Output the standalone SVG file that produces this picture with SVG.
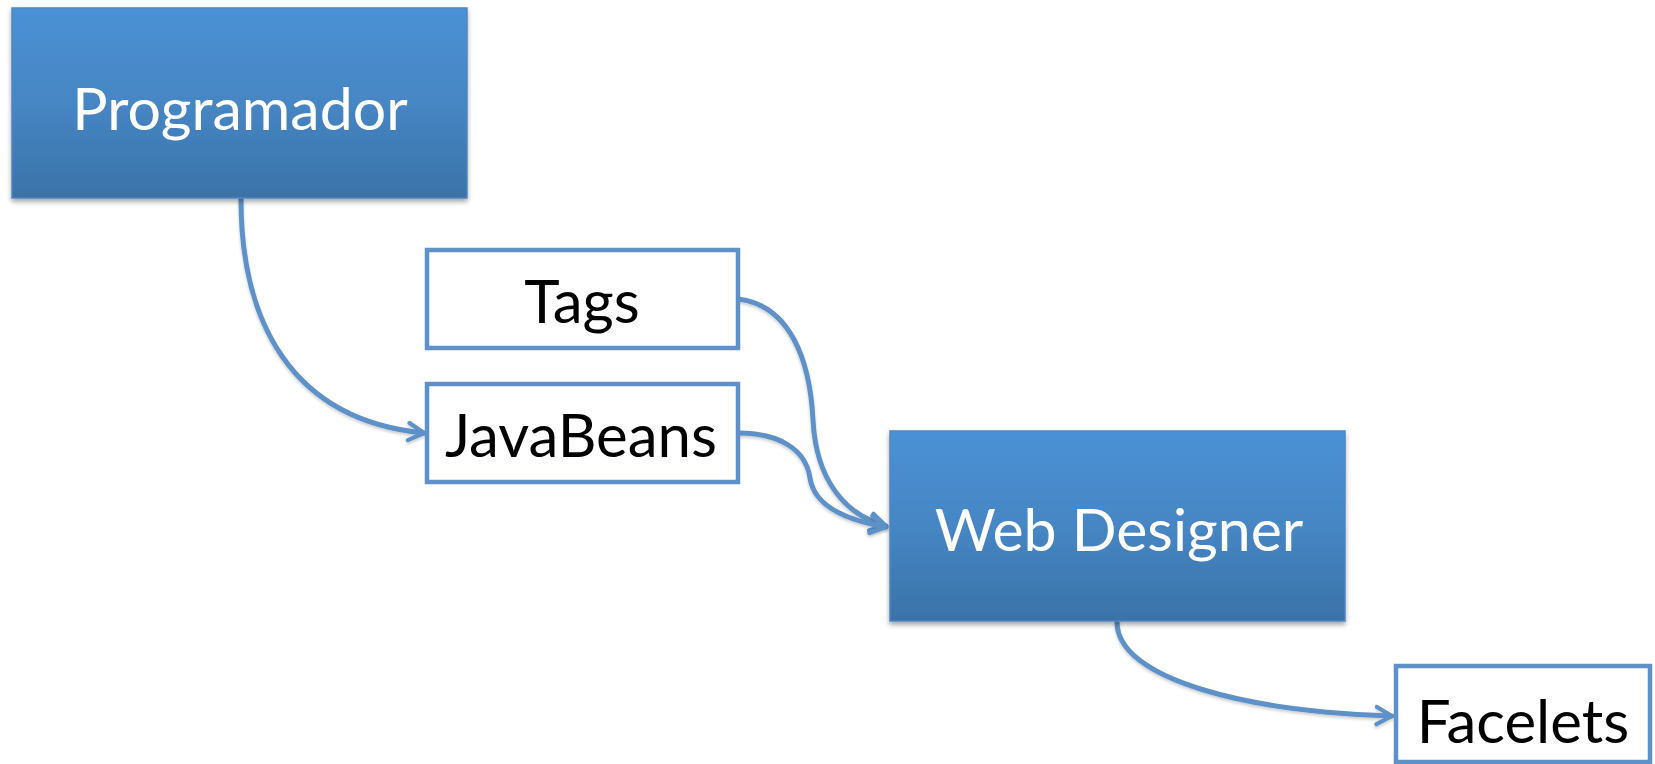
<svg xmlns="http://www.w3.org/2000/svg" width="1655" height="764" viewBox="0 0 1655 764">
  <style>
    .role rect { fill: url(#roleFill); stroke: #4F86C0; stroke-width: 1.5; filter: url(#shadow); }
    .role text { fill: #FFFFFF; font-family: Lato, "Open Sans", sans-serif; font-size: 59px; text-anchor: middle; }
    .item rect { fill: #FFFFFF; stroke: #5F91C9; stroke-width: 4.5; }
    .item text { fill: #000000; font-family: Lato, "Open Sans", sans-serif; font-size: 60px; text-anchor: middle; }
    .link { fill: none; stroke: #5F91C9; stroke-width: 5; stroke-linecap: round; marker-end: url(#chevron); filter: url(#lineShadow); }
  </style>
  <defs>
    <linearGradient id="roleFill" x1="0" y1="0" x2="0" y2="1">
      <stop offset="0" stop-color="#4A91D5"/>
      <stop offset="0.5" stop-color="#4686C4"/>
      <stop offset="1" stop-color="#3A72A8"/>
    </linearGradient>
    <filter id="shadow" x="-5%" y="-5%" width="112%" height="115%">
      <feDropShadow dx="0" dy="3" stdDeviation="2.5" flood-color="#000000" flood-opacity="0.35"/>
    </filter>
    <filter id="lineShadow" x="-10%" y="-10%" width="130%" height="130%">
      <feDropShadow dx="0" dy="2" stdDeviation="1.5" flood-color="#000000" flood-opacity="0.2"/>
    </filter>
    <marker id="chevron" viewBox="0 0 12 12" refX="10" refY="6" markerWidth="4.6" markerHeight="4.6" markerUnits="strokeWidth" orient="auto">
      <path d="M2,1.5 L10,6 L2,10.5" fill="none" stroke="#5F91C9" stroke-width="2.2" stroke-linecap="round" stroke-linejoin="round"/>
    </marker>
  </defs>

  <g id="connectors">
    <path class="link" d="M241,199 C241,320 290,420 424,433"/>
    <path class="link" d="M738,299 C790,305 810,360 813,420 C816,480 845,515 886,526"/>
    <path class="link" d="M738,433 C780,433 806,450 810,478 C814,505 845,520 886,527"/>
    <path class="link" d="M1117,622 C1117,680 1250,712 1392,716"/>
  </g>

  <g id="programador" class="role">
    <rect x="12" y="8" width="455" height="190"/>
    <text x="240" y="130">Programador</text>
  </g>

  <g id="tags" class="item">
    <rect x="427" y="250" width="311" height="98"/>
    <text x="582" y="323">Tags</text>
  </g>

  <g id="javabeans" class="item">
    <rect x="427" y="384" width="311" height="98"/>
    <text x="581" y="457">JavaBeans</text>
  </g>

  <g id="web-designer" class="role">
    <rect x="890" y="431" width="455" height="190"/>
    <text x="1119" y="551">Web Designer</text>
  </g>

  <g id="facelets" class="item">
    <rect x="1396" y="666" width="254" height="96"/>
    <text x="1523" y="743">Facelets</text>
  </g>
</svg>
